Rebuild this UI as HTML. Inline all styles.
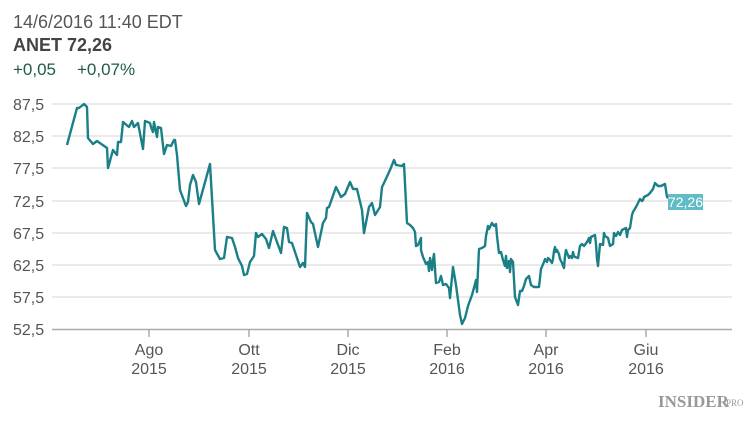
<!DOCTYPE html>
<html><head><meta charset="utf-8"><style>
body{margin:0;background:#fff;width:750px;height:417px;overflow:hidden;font-family:"Liberation Sans",sans-serif}
</style></head><body>
<svg width="750" height="417" xmlns="http://www.w3.org/2000/svg" font-family="Liberation Sans, sans-serif">
<text x="13" y="28" font-size="18" fill="#555">14/6/2016 11:40 EDT</text>
<text x="13" y="51" font-size="18" font-weight="bold" fill="#444">ANET 72,26</text>
<text x="13" y="75" font-size="17" fill="#1f5a4c">+0,05</text>
<text x="77" y="75" font-size="17" fill="#1f5a4c">+0,07%</text>
<g stroke="#ddd" stroke-width="1.3">
<line x1="52" x2="732" y1="104" y2="104"/><line x1="52" x2="732" y1="136" y2="136"/>
<line x1="52" x2="732" y1="168" y2="168"/><line x1="52" x2="732" y1="201" y2="201"/>
<line x1="52" x2="732" y1="233" y2="233"/><line x1="52" x2="732" y1="265" y2="265"/>
<line x1="52" x2="732" y1="297" y2="297"/>
</g>
<line x1="52" x2="732" y1="329.5" y2="329.5" stroke="#aaa" stroke-width="1.5"/>
<g stroke="#aaa" stroke-width="1.5">
<line x1="149" x2="149" y1="329" y2="337"/><line x1="249" x2="249" y1="329" y2="337"/>
<line x1="348" x2="348" y1="329" y2="337"/><line x1="447" x2="447" y1="329" y2="337"/>
<line x1="546" x2="546" y1="329" y2="337"/><line x1="646" x2="646" y1="329" y2="337"/>
</g>
<g font-size="16" fill="#555">
<text x="13" y="110">87,5</text><text x="13" y="142">82,5</text><text x="13" y="174">77,5</text>
<text x="13" y="207">72,5</text><text x="13" y="239">67,5</text><text x="13" y="271">62,5</text>
<text x="13" y="303">57,5</text><text x="13" y="335">52,5</text>
</g>
<g font-size="16" fill="#555" text-anchor="middle">
<text x="149" y="355">Ago</text><text x="149" y="374">2015</text>
<text x="249" y="355">Ott</text><text x="249" y="374">2015</text>
<text x="348" y="355">Dic</text><text x="348" y="374">2015</text>
<text x="447" y="355">Feb</text><text x="447" y="374">2016</text>
<text x="546" y="355">Apr</text><text x="546" y="374">2016</text>
<text x="646" y="355">Giu</text><text x="646" y="374">2016</text>
</g>
<polyline fill="none" stroke="#1a7f86" stroke-width="2.4" stroke-linejoin="round" points="67,145 77,108 79,108 84,104 87,107 88,138 93,144 97,141 107,148 108,168 113,150 117,155 118,142 121,142 123,122 129,127 132,121 134,127 138,123 143,149 145,121 150,123 151,127 153,132 154,122 157,137 158,127 161,128 164,154 167,145 171,146 174,140 175,140 177,155 180,190 183,198 186,206 188,202 190,185 193,175 196,182 199,204 210,164 215,250 220,259 224,258 227,237 232,238 235,247 238,258 242,266 244,275 247,274 250,262 254,256 256,233 258,237 262,234 266,239 269,248 273,231 277,242 281,253 284,227 287,228 289,242 292,243 300,267 303,263 305,267 307,213 311,222 313,224 318,247 323,223 326,218 327,208 329,207 336,187 341,197 345,194 350,182 353,189 357,189 362,210 364,233 369,207 372,203 375,215 380,207 382,187 384,183 390,170 394,160 396,165 402,166 404,164 407,223 410,225 413,228 415,232 416,246 418,245 421,238 421,250 423,257 426,264 428,262 429,271 430,258 432,270 433,260 434,254 436,283 439,282 441,276 443,285 446,284 449,288 450,298 453,267 456,285 460,315 462,324 465,318 468,306 472,295 475,284 476,280 477,292 479,249 482,248 485,246 486,236 488,226 489,229 492,223 494,226 496,224 497,236 499,253 501,252 503,260 505,266 506,256 507,268 509,261 510,272 511,259 513,262 515,297 518,305 520,291 522,291 524,286 526,279 529,276 531,285 534,287 539,287 541,269 544,262 545,259 547,262 548,258 550,260 552,263 553,259 554,251 555,247 556,252 557,250 559,254 560,259 562,263 564,268 565,256 566,250 569,258 570,256 572,258 573,252 574,256 575,257 578,258 580,246 582,244 584,246 587,242 589,238 590,243 591,237 593,236 595,235 596,244 597,259 598,266 600,244 603,245 604,233 605,236 608,238 610,246 613,244 614,233 616,236 618,232 620,235 622,230 624,229 626,228 627,237 628,230 630,228 632,215 633,212 636,207 640,199 642,201 643,200 644,197 648,195 650,193 653,189 655,183 656,184 658,186 661,186 663,185 665,184 667,197 669,198 672,201"/>
<rect x="668" y="194" width="35" height="16" fill="#62bcc6"/>
<text x="685.5" y="207" font-size="14" fill="#fff" text-anchor="middle">72,26</text>
<text x="658" y="407" font-size="17" font-weight="bold" font-family="Liberation Serif, serif" fill="#999">INSIDER</text>
<text x="726" y="406" font-size="9" font-family="Liberation Serif, serif" fill="#999">PRO</text>
</svg>
</body></html>
